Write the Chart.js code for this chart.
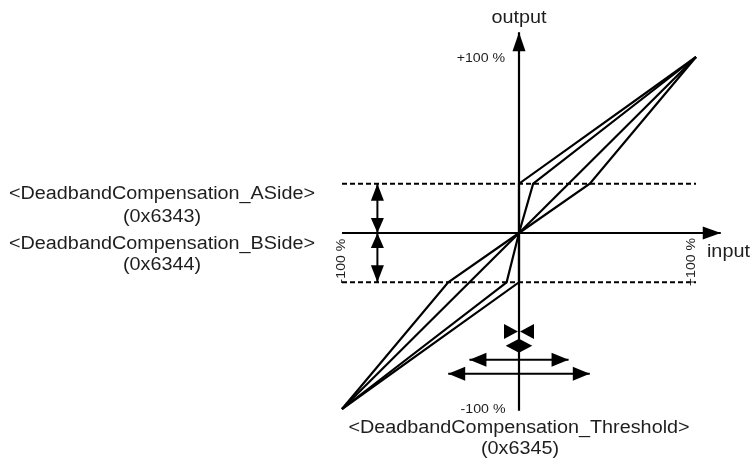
<!DOCTYPE html>
<html><head><meta charset="utf-8">
<script src="https://cdn.jsdelivr.net/npm/chart.js@4/dist/chart.umd.min.js"></script>
<style>html,body{margin:0;padding:0;background:#fff;}canvas{display:block;}</style>
</head><body>
<canvas id="c" width="752" height="463"></canvas>
<script>
// ---- characteristic curves (input %, output %) ----
const jumpX    = [-100, 0, 0, 100];
const jumpY    = [-100, -28, 28, 100];
const narrowX  = [-100, -7, 0, 8, 100];
const narrowY  = [-100, -28, 0, 28, 100];
const linearX  = [-100, 100];
const linearY  = [-100, 100];
const wideX    = [-100, -40, 0, 40, 100];
const wideY    = [-100, -28, 0, 28, 100];
// ---- deadband levels ----
const deadbandASide = 28;
const deadbandBSide = -28;
const dashedSpan = [-100, 100];
// ---- axes ----
const inputAxisSpan  = [-100, 114];
const outputAxisSpan = [-101, 114];
// ---- dimension arrows ----
const deadbandArrowX = -80;
const thresholdHalfWidths = [0, 7.5, 28, 40];
const thresholdLevels     = [-56, -64, -72, -80];
// ---- texts ----
const axisTitles = ['output', 'input'];
const tickLabels = ['+100 %', '-100 %', '+100 %', '-100 %']; // output top, input left, input right, output bottom
const paramLabels = ['<DeadbandCompensation_ASide>', '(0x6343)', '<DeadbandCompensation_BSide>', '(0x6344)',
                     '<DeadbandCompensation_Threshold>', '(0x6345)'];

const zip = (xs, ys) => xs.map((x, i) => ({x, y: ys[i]}));
const lineDs = (data, extra) => Object.assign({data, showLine: true, borderColor: '#000', borderWidth: 2.2,
  pointRadius: 0, fill: false, tension: 0}, extra || {});

const datasets = [
  lineDs(zip(jumpX, jumpY)),
  lineDs(zip(narrowX, narrowY)),
  lineDs(zip(linearX, linearY)),
  lineDs(zip(wideX, wideY)),
  lineDs(zip(dashedSpan, [deadbandASide, deadbandASide]), {borderDash: [5, 3], borderWidth: 2}),
  lineDs(zip(dashedSpan, [deadbandBSide, deadbandBSide]), {borderDash: [5, 3], borderWidth: 2}),
  lineDs(zip(inputAxisSpan, [0, 0])),
  lineDs(zip([0, 0], outputAxisSpan)),
  lineDs(zip([deadbandArrowX, deadbandArrowX], [deadbandBSide, deadbandASide]), {borderWidth: 2}),
];
thresholdHalfWidths.forEach((t, i) => {
  if (t > 10) datasets.push(lineDs(zip([-t, t], [thresholdLevels[i], thresholdLevels[i]]), {borderWidth: 2}));
});

const TEXT_COLOR = '#1e1e1e';

function drawHead(ctx, tip, base, len, half) {
  const dx0 = tip[0] - base[0], dy0 = tip[1] - base[1];
  const d = Math.hypot(dx0, dy0) || 1;
  const dx = dx0 / d, dy = dy0 / d;
  const bx = tip[0] - dx * len, by = tip[1] - dy * len;
  ctx.beginPath();
  ctx.moveTo(tip[0], tip[1]);
  ctx.lineTo(bx - dy * half, by + dx * half);
  ctx.lineTo(bx + dy * half, by - dx * half);
  ctx.closePath();
  ctx.fill();
}
function drawText(ctx, s, px, py, size, stretch, align, rot) {
  ctx.save();
  ctx.translate(px, py);
  if (rot) ctx.rotate(rot);
  ctx.scale(stretch, 1);
  ctx.font = size + 'px "Liberation Sans", Arial, sans-serif';
  ctx.fillStyle = TEXT_COLOR;
  ctx.textAlign = align;
  ctx.textBaseline = 'alphabetic';
  ctx.fillText(s, 0, 0);
  ctx.restore();
}

const BIG = 18, BIG_S = 1.1, SMALL = 13.5, SMALL_S = 1.05;

const annotate = {
  id: 'annotate',
  afterDatasetsDraw(chart) {
    const ctx = chart.ctx, sx = chart.scales.x, sy = chart.scales.y;
    const P = (x, y) => [sx.getPixelForValue(x), sy.getPixelForValue(y)];
    ctx.save();
    ctx.fillStyle = '#000';
    // axis arrowheads
    drawHead(ctx, P(inputAxisSpan[1], 0), P(0, 0), 18, 6.5);
    drawHead(ctx, P(0, outputAxisSpan[1]), P(0, 0), 19, 6.5);
    // deadband arrows (A side and B side)
    drawHead(ctx, P(deadbandArrowX, deadbandASide), P(deadbandArrowX, 0), 17, 6.5);
    drawHead(ctx, P(deadbandArrowX, 0), P(deadbandArrowX, deadbandASide), 15, 6.5);
    drawHead(ctx, P(deadbandArrowX, 0), P(deadbandArrowX, deadbandBSide), 15, 6.5);
    drawHead(ctx, P(deadbandArrowX, deadbandBSide), P(deadbandArrowX, 0), 17, 6.5);
    // threshold arrows
    thresholdHalfWidths.forEach((t, i) => {
      const L = thresholdLevels[i];
      const c = P(0, L);
      if (t === 0) {
        drawHead(ctx, [c[0] - 1, c[1]], [c[0] - 20, c[1]], 14, 7.5);
        drawHead(ctx, [c[0] + 1, c[1]], [c[0] + 20, c[1]], 14, 7.5);
      } else {
        const l = P(-t, L), r = P(t, L);
        const len = Math.min(17, r[0] - c[0]);
        drawHead(ctx, l, c, len, 7);
        drawHead(ctx, r, c, len, 7);
      }
    });
    // texts
    let p;
    p = P(0, 119.3);     drawText(ctx, axisTitles[0], p[0], p[1], BIG, BIG_S, 'center');
    p = P(106.2, -13.6); drawText(ctx, axisTitles[1], p[0], p[1], BIG, BIG_S, 'left');
    p = P(-21.5, 97.2);  drawText(ctx, tickLabels[0], p[0], p[1], SMALL, SMALL_S, 'center');
    p = P(-98.3, -15.9); drawText(ctx, tickLabels[1], p[0], p[1], SMALL, SMALL_S, 'center', -Math.PI / 2);
    p = P(99.4, -16.5);  drawText(ctx, tickLabels[2], p[0], p[1], SMALL, SMALL_S, 'center', -Math.PI / 2);
    p = P(-20.3, -102.3); drawText(ctx, tickLabels[3], p[0], p[1], SMALL, SMALL_S, 'center');
    const leftX = -201.7;
    [19.3, 6.2, -9.1, -21.0].forEach((y, i) => {
      p = P(leftX, y); drawText(ctx, paramLabels[i], p[0], p[1], BIG, BIG_S, 'center');
    });
    p = P(0, -113.6);  drawText(ctx, paramLabels[4], p[0], p[1], BIG, BIG_S, 'center');
    p = P(0.6, -125.6); drawText(ctx, paramLabels[5], p[0], p[1], BIG, BIG_S, 'center');
    ctx.restore();
  }
};

new Chart(document.getElementById('c'), {
  type: 'scatter',
  data: {datasets},
  options: {
    responsive: false,
    animation: false,
    devicePixelRatio: 1,
    layout: {padding: 0},
    plugins: {legend: {display: false}, tooltip: {enabled: false}},
    scales: {
      x: {type: 'linear', display: false, min: -519 / 1.77, max: (752 - 519) / 1.77},
      y: {type: 'linear', display: false, min: -(463 - 233) / 1.76, max: 233 / 1.76}
    }
  },
  plugins: [annotate]
});
</script>
</body></html>
